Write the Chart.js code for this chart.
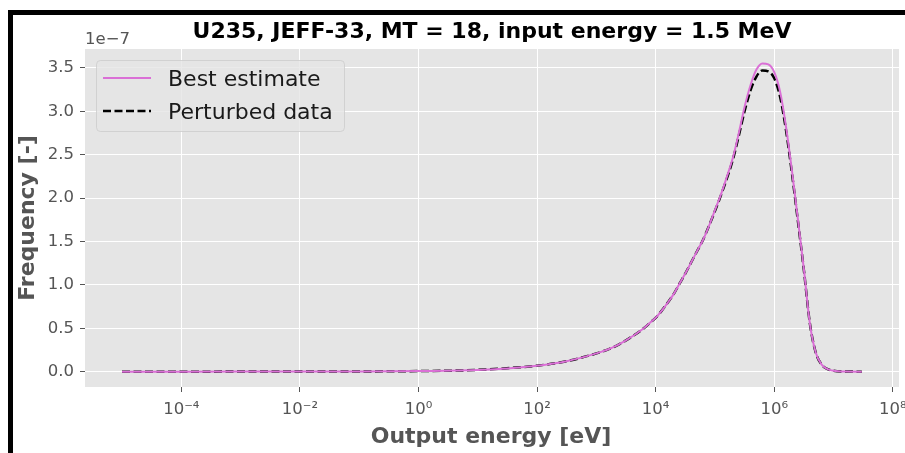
<!DOCTYPE html>
<html>
<head>
<meta charset="utf-8">
<script src="https://cdn.jsdelivr.net/npm/chart.js@4/dist/chart.umd.min.js"></script>
<style>
  html, body { margin: 0; padding: 0; background: #fff; }
  canvas { display: block; }
</style>
</head>
<body>
<canvas id="chart" width="905" height="453"></canvas>
<script>
// output energy in eV, frequency in units of 1e-7
const ENERGIES = [
  1e-5, 1e-4, 1e-3, 1e-2, 1e-1, 1, 10, 100, 316, 1e3,
  1.78e3, 3.16e3, 6.31e3, 7.94e3, 1e4, 1.26e4, 1.58e4, 2e4, 2.51e4, 3.16e4,
  3.98e4, 5.01e4, 6.31e4, 7.94e4, 1e5, 1.26e5, 1.58e5, 2e5, 2.51e5, 3.16e5,
  3.98e5, 5.01e5, 6.31e5, 7.94e5, 1e6, 1.26e6, 1.58e6, 2e6, 2.51e6, 3.16e6,
  3.98e6, 5.01e6, 6.31e6, 7.94e6, 1e7, 1.6e7, 3e7
];
const BEST = [
  0.0, 0.0001, 0.0002, 0.0007, 0.002, 0.007, 0.02, 0.069, 0.12, 0.21,
  0.27, 0.36, 0.50, 0.56, 0.62, 0.70, 0.79, 0.89, 1.01, 1.13,
  1.26, 1.39, 1.52, 1.68, 1.86, 2.04, 2.24, 2.46, 2.74, 3.05,
  3.30, 3.48, 3.55, 3.54, 3.45, 3.22, 2.82, 2.30, 1.75, 1.18,
  0.56, 0.22, 0.08, 0.03, 0.01, 0.001, 0.0
];
const PERTURBED = [
  0.0, 0.0001, 0.0002, 0.0007, 0.002, 0.007, 0.02, 0.069, 0.12, 0.21,
  0.27, 0.36, 0.50, 0.56, 0.62, 0.70, 0.79, 0.89, 1.01, 1.13,
  1.26, 1.39, 1.52, 1.68, 1.85, 2.03, 2.22, 2.44, 2.71, 3.00,
  3.24, 3.40, 3.47, 3.46, 3.38, 3.16, 2.78, 2.27, 1.73, 1.17,
  0.56, 0.22, 0.08, 0.03, 0.01, 0.001, 0.0
];
const SERIES_NAMES = ['Best estimate', 'Perturbed data'];

const X_TICKS = [1e-4, 1e-2, 1, 1e2, 1e4, 1e6, 1e8];
const X_TICK_LABELS = ['10⁻⁴', '10⁻²', '10⁰', '10²', '10⁴', '10⁶', '10⁸'];
const Y_TICKS = [0, 0.5, 1, 1.5, 2, 2.5, 3, 3.5];
const Y_TICK_LABELS = ['0.0', '0.5', '1.0', '1.5', '2.0', '2.5', '3.0', '3.5'];

const TITLE = 'U235, JEFF-33, MT = 18, input energy = 1.5 MeV';
const X_LABEL = 'Output energy [eV]';
const Y_LABEL = 'Frequency [-]';
const OFFSET_TEXT = '1e−7';

const FONT = `'DejaVu Sans', sans-serif`;
const GREY = `#555555`;
const PINK = `#DA70D6`;

const toPoints = (values) => ENERGIES.map((e, i) => ({x: e, y: values[i]}));

const framePlugin = {
  id: `frame`,
  beforeDraw(chart) {
    const {ctx, chartArea: a} = chart;
    ctx.save();
    ctx.fillStyle = `#ffffff`;
    ctx.fillRect(0, 0, chart.width, chart.height);
    ctx.fillStyle = `#E5E5E5`;
    ctx.fillRect(a.left, a.top, a.right - a.left, a.bottom - a.top);
    ctx.restore();
  },
  afterDraw(chart) {
    const {ctx} = chart;
    ctx.save();

    // title
    ctx.fillStyle = `#000`;
    ctx.font = `bold 22px ${FONT}`;
    ctx.textAlign = `center`;
    ctx.textBaseline = `alphabetic`;
    ctx.fillText(TITLE, 492, 38);

    // axis labels
    ctx.fillStyle = GREY;
    ctx.fillText(X_LABEL, 491, 443);
    ctx.save();
    ctx.translate(34, 218);
    ctx.rotate(-Math.PI / 2);
    ctx.fillText(Y_LABEL, 0, 0);
    ctx.restore();

    // offset text
    ctx.font = `16.5px ${FONT}`;
    ctx.textAlign = `left`;
    ctx.fillText(OFFSET_TEXT, 85, 44);

    // legend
    ctx.beginPath();
    ctx.roundRect(96.5, 60.5, 248, 71, 4);
    ctx.fillStyle = `rgba(229, 229, 229, 0.8)`;
    ctx.fill();
    ctx.strokeStyle = `rgba(204, 204, 204, 0.8)`;
    ctx.lineWidth = 1;
    ctx.stroke();

    const rows = [78, 111];
    chart.data.datasets.forEach((ds, i) => {
      ctx.beginPath();
      ctx.strokeStyle = ds.borderColor;
      ctx.lineWidth = ds.borderWidth;
      ctx.setLineDash(ds.borderDash || []);
      ctx.moveTo(103, rows[i]);
      ctx.lineTo(151, rows[i]);
      ctx.stroke();
      ctx.setLineDash([]);
      ctx.fillStyle = `#1a1a1a`;
      ctx.font = `22px ${FONT}`;
      ctx.textBaseline = `alphabetic`;
      ctx.fillText(ds.label, 168, rows[i] + 8);
    });

    // black frame
    ctx.fillStyle = `#000`;
    ctx.fillRect(8, 10, chart.width - 8, 5);
    ctx.fillRect(8, 10, 5, chart.height - 10);
    ctx.restore();
  }
};

const ctx = document.getElementById(`chart`).getContext(`2d`);

const chart = new Chart(ctx, {
  type: `line`,
  plugins: [framePlugin],
  data: {
    datasets: [{
      label: SERIES_NAMES[0],
      data: toPoints(BEST),
      borderColor: PINK,
      borderWidth: 2,
      pointRadius: 0,
      fill: false,
      cubicInterpolationMode: `monotone`,
    }, {
      label: SERIES_NAMES[1],
      data: toPoints(PERTURBED),
      borderColor: `#000000`,
      borderWidth: 2.5,
      borderDash: [8, 3.5],
      pointRadius: 0,
      fill: false,
      cubicInterpolationMode: `monotone`,
    }],
  },
  options: {
    responsive: false,
    animation: false,
    devicePixelRatio: 1,
    layout: {
      padding: {top: 49, right: 6, left: 0, bottom: 0},
    },
    plugins: {
      legend: {display: false},
      tooltip: {enabled: false},
      title: {display: false},
    },
    scales: {
      x: {
        type: `logarithmic`,
        min: Math.pow(10, -5.624),
        max: Math.pow(10, 8.104),
        afterBuildTicks: (scale) => {
          scale.ticks = X_TICKS.map((v) => ({value: v}));
        },
        afterFit: (scale) => {
          scale.height = 66;
          scale.paddingLeft = 0;
          scale.paddingRight = 0;
        },
        ticks: {
          autoSkip: false,
          maxRotation: 0,
          padding: 8,
          color: GREY,
          font: {family: FONT, size: 16.5},
          callback: (value) => X_TICK_LABELS[X_TICKS.indexOf(value)] || ``,
        },
        grid: {
          color: `#ffffff`,
          lineWidth: 1,
          tickColor: GREY,
          tickLength: 5,
        },
        border: {display: false},
      },
      y: {
        type: `linear`,
        min: -0.177,
        max: 3.717,
        afterBuildTicks: (scale) => {
          scale.ticks = Y_TICKS.map((v) => ({value: v}));
        },
        afterFit: (scale) => {
          scale.width = 85;
          scale.paddingTop = 0;
          scale.paddingBottom = 0;
        },
        ticks: {
          padding: 6,
          color: GREY,
          font: {family: FONT, size: 16.5},
          callback: (value) => Y_TICK_LABELS[Y_TICKS.indexOf(value)] || ``,
        },
        grid: {
          color: `#ffffff`,
          lineWidth: 1,
          tickColor: GREY,
          tickLength: 5,
        },
        border: {display: false},
      },
    },
  },
});
</script>
</body>
</html>
